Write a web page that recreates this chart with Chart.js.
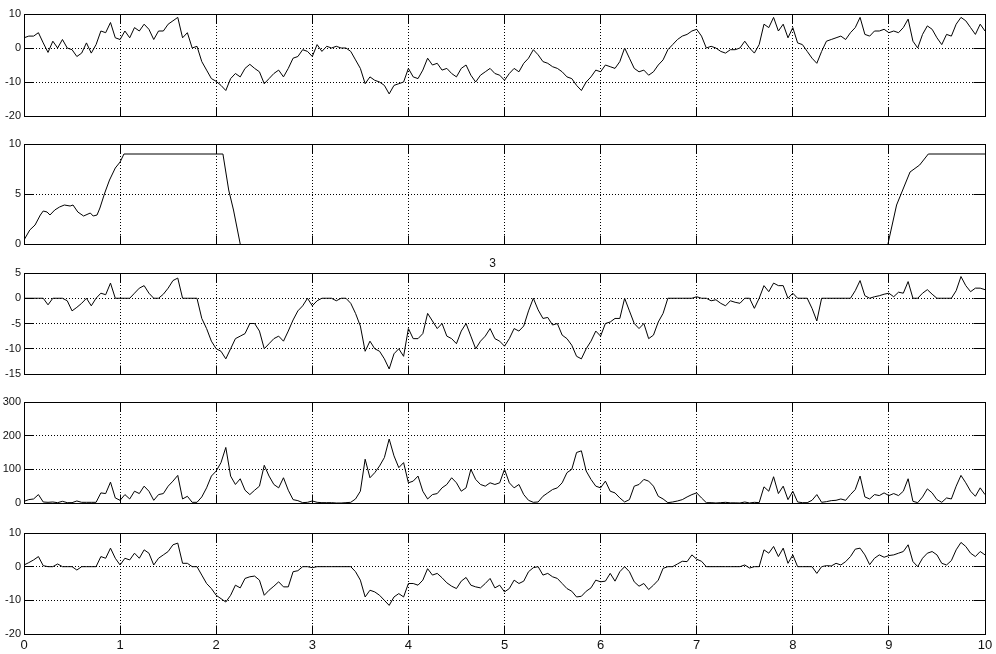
<!DOCTYPE html>
<html>
<head>
<meta charset="utf-8">
<script src="https://cdn.jsdelivr.net/npm/chart.js@4.4.0/dist/chart.umd.min.js"></script>
<style>
    html, body { margin: 0; padding: 0; background: #fff; }
    #figure { position: relative; width: 996px; height: 654px; overflow: hidden; background: #fff; }
    #figure canvas { position: absolute; left: 0; }
</style>
</head>
<body>
<div id="figure">
    <canvas id="p1" width="996" height="126" style="top:2px"></canvas>
    <canvas id="p2" width="996" height="124" style="top:132px"></canvas>
    <canvas id="p3" width="996" height="137" style="top:249px"></canvas>
    <canvas id="p4" width="996" height="125" style="top:390px"></canvas>
    <canvas id="p5" width="996" height="133" style="top:521px"></canvas>
</div>
<script>
// sample step of the four noisy signals (one value every 0.05 s, 0..10)
const sampleStep = 0.05;

// signal 1 (top panel), one row = 0.5 s
const signal1 = [
    3, 3.5, 3.5, 4.5, 1.5, -1.3, 2, 0, 2.5, 0,
    -0.5, -2.5, -1.5, 1.5, -1.5, 1, 5, 4.5, 7.5, 3,
    2.5, 5, 3, 6, 5, 7, 5.5, 2.5, 5, 5,
    7, 8, 9, 3, 4.5, 0, 0.5, -4, -6.5, -9,
    -9.8, -11, -12.5, -9, -7.5, -8.5, -6, -4.8, -6, -7,
    -10.5, -9, -7.5, -6.5, -8.5, -6, -3, -2.5, -0.5, -1,
    -2.5, 1, -1, 0.5, 0, 0.5, 0, 0, -1, -3.5,
    -6, -10.5, -8.5, -9.5, -10, -11, -13.5, -11, -10.5, -10,
    -6, -8.5, -9, -6.5, -3, -5, -4.5, -6.5, -6, -7.5,
    -8.5, -6, -5, -8, -10, -8, -7, -6, -7.5, -8,
    -9.5, -7.5, -6, -7, -4.5, -3, -0.5, -2, -4, -4.5,
    -5.5, -6, -7, -8.5, -9, -11, -12.5, -10, -8.5, -6.5,
    -7, -5, -5.5, -6, -4, 0, -3, -6, -7, -6.5,
    -8, -7, -5, -3.5, -0.5, 1, 2.5, 3.5, 4, 5,
    5.5, 3.5, 0, 0.5, 0, -1, -1.5, -0.5, -0.5, 0,
    2, 0, -1.5, 1, 7, 6, 9, 5, 7, 3,
    6, 1.5, 1, -1, -3, -4.5, -1, 2, 2.5, 3,
    3.5, 2.5, 4.5, 6, 9, 4, 3.5, 5, 5, 5.5,
    4.5, 5, 4.5, 6, 8.5, 2, 0, 4, 6.5, 5.5,
    3, 1, 4, 3.5, 7, 9, 8, 6, 4, 7,
    5
];

// signal 2 (second panel), read at its break points; null = no line
const signal2Time = [0, 0.06, 0.115, 0.17, 0.2, 0.24, 0.27, 0.32, 0.37, 0.42, 0.48, 0.51, 0.56, 0.62, 0.69,
    0.72, 0.76, 0.79, 0.84, 0.89, 0.95, 1.0, 1.04, 2.07, 2.13, 2.18, 2.25, 5, 8.99, 9.08, 9.22, 9.32, 9.41, 10];
const signal2 = [0.4, 1.4, 1.9, 2.9, 3.3, 3.2, 2.9, 3.4, 3.7, 3.9, 3.8, 3.9, 3.2, 2.8, 3.1,
    2.8, 2.9, 3.6, 5.1, 6.4, 7.6, 8.2, 9, 9, 5.4, 3.4, 0, null, 0, 3.9, 7.2, 7.9, 9, 9];

// signal 3 (third panel)
const signal3 = [
    0, 0, 0, 0, 0, -1.3, 0, 0, 0, -0.5,
    -2.5, -1.8, -1, 0, -1.5, 0, 1, 0.7, 3, 0,
    0, 0, 0, 1, 2, 2.5, 1, 0, 0, 0.8,
    2, 3.5, 4, 0, 0, 0, 0, -4, -6, -8.5,
    -10, -10.5, -12, -10, -8, -7.5, -7, -5, -5, -6.5,
    -10, -9, -8, -7.5, -8.5, -6.5, -4.3, -2.5, -1.5, 0,
    -1.5, -0.5, 0, 0, 0, -0.5, 0, 0, -1, -3,
    -5.5, -10.5, -8.5, -10, -10.5, -12, -14, -11, -10, -11.5,
    -6, -8, -8, -7, -3, -4.5, -6, -5, -7.5, -8,
    -9, -6.5, -5, -7.5, -10, -8.5, -7.5, -6, -8, -8.5,
    -9.5, -8, -6, -6.5, -5.5, -2.5, 0, -2.3, -4, -3.8,
    -5.3, -5, -7.3, -8, -9.3, -11.5, -12, -10, -8.5, -6.5,
    -7.5, -5, -4.7, -4, -4, 0, -2.5, -5, -6, -5,
    -8, -7.3, -4.7, -3, 0, 0, 0, 0, 0, 0,
    0.3, 0, 0, -0.5, -0.3, -1, -1.5, -0.5, -0.8, -1,
    0, 0, -2, 0, 2.5, 1.3, 3, 2.5, 2.5, 0,
    1, 0, 0, 0, -2, -4.5, 0, 0, 0, 0,
    0, 0, 0, 1.5, 3.5, 0.5, 0, 0.3, 0.5, 0.8,
    1, 0.3, 1.2, 1, 3.3, 0, 0, 1, 1.7, 0.8,
    0, 0, 0, 0, 1.5, 4.3, 2.5, 1.3, 2, 2,
    1.7
];

// signal 4 (fourth panel)
const signal4 = [
    5, 10, 12, 25, 3, 2, 3, 1, 5, 1,
    1, 6, 2, 2, 2, 2, 30, 28, 62, 15,
    8, 25, 12, 35, 28, 50, 35, 8, 25, 28,
    50, 65, 82, 12, 20, 2, 2, 18, 45, 80,
    95, 120, 165, 80, 55, 72, 38, 25, 38, 50,
    112, 80, 55, 45, 75, 38, 10, 7, 1, 2,
    6, 2, 1, 1, 1, 0, 0, 1, 2, 12,
    35, 130, 75, 90, 110, 135, 190, 140, 105, 120,
    60, 65, 80, 35, 12, 25, 28, 45, 55, 75,
    60, 35, 45, 100, 70, 55, 50, 60, 55, 60,
    100, 60, 45, 55, 25, 8, 2, 3, 20, 30,
    40, 45, 60, 90, 100, 150, 155, 95, 70, 50,
    45, 65, 35, 30, 15, 3, 10, 50, 55, 70,
    65, 50, 20, 12, 1, 3, 6, 10, 18, 25,
    30, 15, 1, 1, 0, 1, 2, 0.5, 0.5, 0,
    3, 0, 2, 1, 48, 35, 78, 28, 50, 10,
    35, 3, 1, 1, 8, 25, 2, 4, 7, 8,
    12, 8, 25, 40, 80, 18, 12, 25, 22, 30,
    22, 28, 22, 35, 72, 5, 1, 18, 42, 30,
    10, 2, 15, 12, 50, 82, 60, 35, 20, 45,
    25
];

// signal 5 (bottom panel)
const signal5 = [
    0.5, 1.2, 2, 3, 0.3, 0, 0, 0.8, 0, 0,
    0, -1, 0, 0, 0, 0, 3, 2.5, 5.5, 2.5,
    0.5, 2.5, 2, 4, 2.5, 5, 4, 0.5, 2.5, 3.5,
    4.5, 6.5, 7, 1, 1, 0, 0, -2.5, -5, -6.5,
    -8.5, -9.5, -10.5, -8.5, -5.5, -6.3, -3.5, -3, -2.8, -4,
    -8.5, -7, -5.8, -4.5, -6, -6, -1.5, -1.2, 0, 0,
    -0.3, 0, 0, 0, 0, 0, 0, 0, 0, -1.5,
    -4, -9, -7, -7.5, -8.5, -10, -11.5, -9, -8, -9,
    -5, -5, -5.5, -4, -0.6, -2.5, -2, -3.3, -4.8, -5.8,
    -6.5, -4.3, -3.2, -5.5, -6, -6.3, -5, -3.5, -6.3, -5.5,
    -7.5, -6.5, -4, -5, -4.3, -1.5, -0.3, 0, -2.5, -2,
    -3, -3.5, -5, -6.5, -7.3, -9, -8.8, -7.3, -6.3, -4,
    -4.5, -4.3, -2, -4.3, -1.5, 0, -1.5, -4.5, -5.8, -5,
    -6.8, -5.5, -4, -0.5, 0, 0, 0.8, 1.6, 1.5, 3.5,
    2.2, 1.6, 0, 0, 0, 0, 0, 0, 0, 0,
    0.5, -0.4, 0, 0, 5, 4, 6, 3, 5.5, 1,
    3.5, 0, 0, 0, 0, -2, 0, 0.3, 0.2, 1,
    0.5, 1.5, 3, 5.2, 5.5, 3.5, 0.6, 2.5, 3.5, 2.8,
    3.3, 3.5, 4, 4.5, 6.5, 1.5, 0, 2.5, 4, 4.5,
    3.5, 1, 0.5, 1.8, 5, 7.2, 6, 4, 3, 4.5,
    3.5
];

const sampleTimes = signal1.map((_, i) => i * sampleStep);

const labelFont = { family: "'Liberation Sans', Arial, sans-serif", size: 11 };
const xLabelFont = { family: "'Liberation Sans', Arial, sans-serif", size: 13 };
const textColor = '#111';

// pixel alignment like Chart.js grid lines
function align(p) {
    return Math.round(p - 0.5) + 0.5;
}

// box around the axes and inward tick marks
const framePlugin = {
    id: 'frame',
    afterDraw(chart) {
        const { ctx, chartArea: a, scales: { x, y } } = chart;
        const L = align(a.left), R = align(a.right), T = align(a.top), B = align(a.bottom);
        ctx.save();
        ctx.strokeStyle = '#000';
        ctx.lineWidth = 1;
        ctx.setLineDash([]);
        ctx.strokeRect(L, T, R - L, B - T);
        ctx.beginPath();
        x.ticks.forEach(t => {
            const px = align(x.getPixelForValue(t.value));
            ctx.moveTo(px, T); ctx.lineTo(px, T + 9);
            ctx.moveTo(px, B); ctx.lineTo(px, B - 9);
        });
        y.ticks.forEach(t => {
            const py = align(y.getPixelForValue(t.value));
            ctx.moveTo(L, py); ctx.lineTo(L + 9, py);
            ctx.moveTo(R, py); ctx.lineTo(R - 12, py);
        });
        ctx.stroke();
        ctx.restore();
    }
};

function makePanel(id, times, values, yMin, yMax, yStep, opts) {
    const ctx = document.getElementById(id).getContext('2d');
    const points = times.map((t, i) => ({ x: t, y: values[i] }));

    return new Chart(ctx, {
        type: 'line',
        data: {
            datasets: [{
                data: points,
                borderColor: '#000',
                borderWidth: 1,
                pointRadius: 0,
                tension: 0,
                fill: false,
                spanGaps: false
            }]
        },
        options: {
            responsive: false,
            animation: false,
            events: [],
            layout: {
                padding: { left: 0, right: 11, top: opts.padTop, bottom: opts.showX ? 0 : 12 }
            },
            plugins: {
                legend: { display: false },
                tooltip: { enabled: false },
                title: {
                    display: !!opts.title,
                    text: opts.title || '',
                    color: textColor,
                    font: { family: labelFont.family, size: 12, weight: 'normal', lineHeight: 1.5 },
                    padding: 0
                }
            },
            scales: {
                x: {
                    type: 'linear',
                    min: 0,
                    max: 10,
                    ticks: {
                        stepSize: 1,
                        display: opts.showX,
                        font: xLabelFont,
                        color: textColor,
                        padding: 4,
                        maxRotation: 0
                    },
                    grid: { color: '#000', lineWidth: 1, drawTicks: false },
                    border: { display: false, dash: [1, 2] },
                    afterFit: s => {
                        s.height = opts.showX ? 20 : 0;
                        s.paddingLeft = 0;
                        s.paddingRight = 0;
                    }
                },
                y: {
                    min: yMin,
                    max: yMax,
                    ticks: {
                        stepSize: yStep,
                        font: labelFont,
                        color: textColor,
                        padding: 3
                    },
                    grid: { color: '#000', lineWidth: 1, drawTicks: false },
                    border: { display: false, dash: [1, 2] },
                    afterFit: s => {
                        s.width = 24;
                        s.paddingTop = 0;
                        s.paddingBottom = 0;
                    }
                }
            }
        },
        plugins: [framePlugin]
    });
}

makePanel('p1', sampleTimes, signal1, -20, 10, 10, { padTop: 12, showX: false });
makePanel('p2', signal2Time, signal2, 0, 10, 5, { padTop: 12, showX: false });
makePanel('p3', sampleTimes, signal3, -15, 5, 5, { padTop: 6, showX: false, title: '3' });
makePanel('p4', sampleTimes, signal4, 0, 300, 100, { padTop: 12, showX: false });
makePanel('p5', sampleTimes, signal5, -20, 10, 10, { padTop: 12, showX: true });
</script>
</body>
</html>
